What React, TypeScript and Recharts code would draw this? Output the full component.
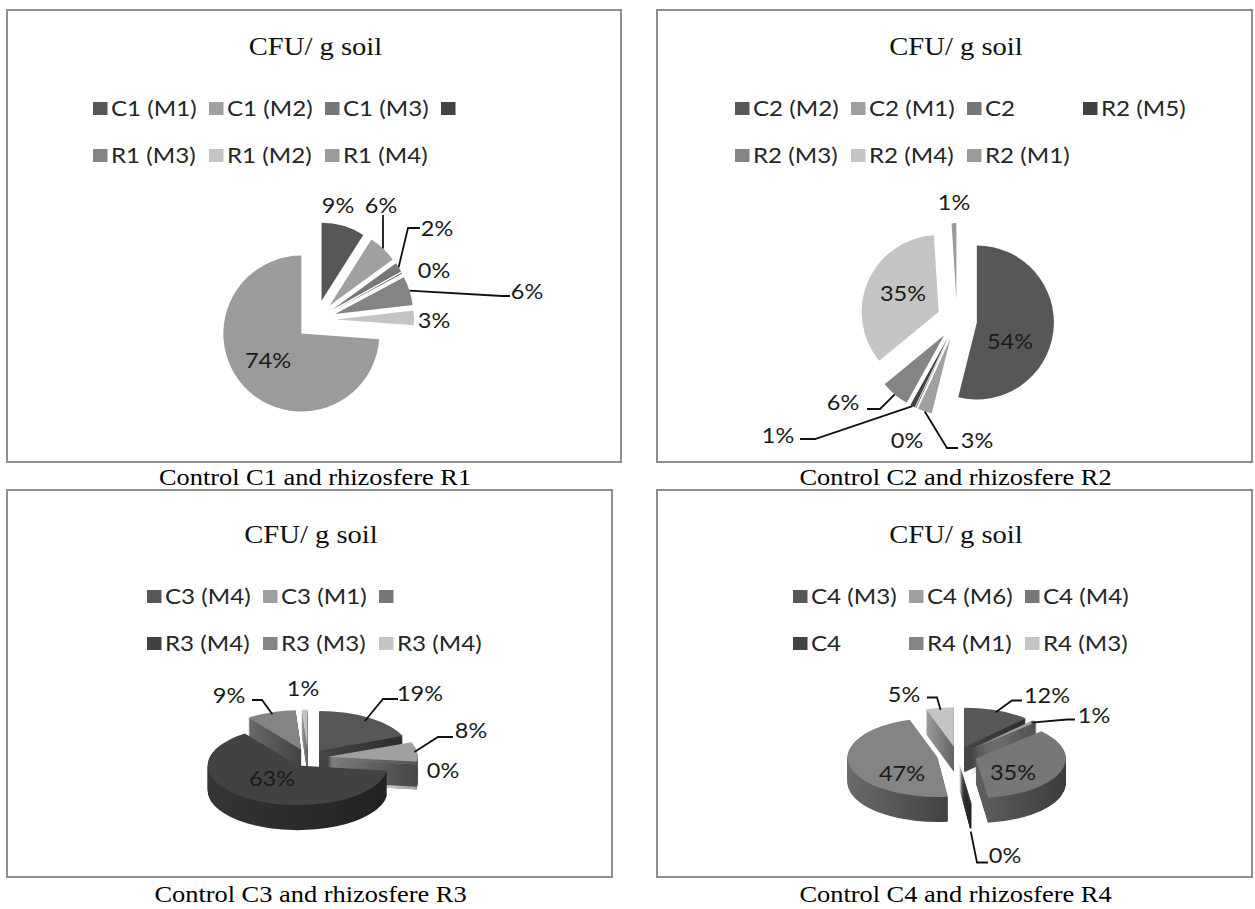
import React from 'react';
import { PieChart, Pie, Sector } from 'recharts';

// ---------- data ----------
const P1_NAMES = ['C1 (M1)', 'C1 (M2)', 'C1 (M3)', '', 'R1 (M3)', 'R1 (M2)', 'R1 (M4)'];
const P1_VALUES = [9, 6, 2, 0.2, 6, 3, 74];
const P2_NAMES = ['C2 (M2)', 'C2 (M1)', 'C2', 'R2 (M5)', 'R2 (M3)', 'R2 (M4)', 'R2 (M1)'];
const P2_VALUES = [54, 3, 0.2, 1, 6, 35, 1];
const P3_NAMES = ['C3 (M4)', 'C3 (M1)', '', 'R3 (M4)', 'R3 (M3)', 'R3 (M4)'];
const P3_VALUES = [19, 8, 0.2, 63, 9, 1];
const P4_NAMES = ['C4 (M3)', 'C4 (M6)', 'C4 (M4)', 'C4', 'R4 (M1)', 'R4 (M3)'];
const P4_VALUES = [12, 1, 35, 0.3, 47, 5];
const TITLE = 'CFU/ g soil';
const CAPTIONS = [
  'Control C1 and rhizosfere R1',
  'Control C2 and rhizosfere R2',
  'Control C3 and rhizosfere R3',
  'Control C4 and rhizosfere R4',
];

// ---------- style / layout ----------
const PALETTE = ['#575757', '#a0a0a0', '#777777', '#424242', '#848484', '#c4c4c4', '#9b9b9b'];
const SANS = 'Lato, "Open Sans", "DejaVu Sans", sans-serif';
const SERIF = '"Liberation Serif", "Times New Roman", serif';
const RAD = Math.PI / 180;

type Leader = { ax: number; ay: number; ex: number; pr?: number; pd?: number };
type LabelSpec = { dx: number; dy: number; leader?: Leader };

// label placement relative to pie centre (layout only)
const P1_LABELS: LabelSpec[] = [
  { dx: 22, dy: -115 },
  { dx: 65, dy: -115, leader: { ax: 2, ay: 10, ex: 0 } },
  { dx: 121, dy: -92, leader: { ax: -17, ay: 0, ex: -12 } },
  { dx: 118, dy: -50 },
  { dx: 211, dy: -29, leader: { ax: -17, ay: 5, ex: -8 } },
  { dx: 118, dy: 0 },
  { dx: -48, dy: 40 },
];
const P2_LABELS: LabelSpec[] = [
  { dx: 53, dy: 21 },
  { dx: 20, dy: 120, leader: { ax: -19, ay: 8, ex: -11 } },
  { dx: -50, dy: 120 },
  { dx: -179, dy: 115, leader: { ax: 22, ay: 4, ex: 15 } },
  { dx: -114, dy: 82, leader: { ax: 24, ay: 7, ex: 13 } },
  { dx: -54, dy: -27 },
  { dx: -3, dy: -118 },
];
const P3_LABELS: LabelSpec[] = [
  { dx: 112, dy: -65, leader: { ax: -22, ay: 6, ex: -15, pr: 0.9 } },
  { dx: 163, dy: -28, leader: { ax: -18, ay: 7, ex: -15, pr: 0.97 } },
  { dx: 135, dy: 12 },
  { dx: -36, dy: 20 },
  { dx: -79, dy: -63, leader: { ax: 23, ay: 5, ex: 10, pr: 0.95 } },
  { dx: -5, dy: -70 },
];
const P4_LABELS: LabelSpec[] = [
  { dx: 90, dy: -60, leader: { ax: -25, ay: 5, ex: -10, pr: 0.95 } },
  { dx: 137, dy: -40, leader: { ax: -19, ay: 4, ex: -8, pr: 0.95 } },
  { dx: 56, dy: 16.5 },
  { dx: 48, dy: 100, leader: { ax: -17, ay: 7, ex: -11, pd: 28 } },
  { dx: -55, dy: 17.5 },
  { dx: -53, dy: -61, leader: { ax: 23, ay: 3, ex: 10, pr: 0.95 } },
];

type Panel = {
  id: string;
  names: string[];
  values: number[];
  caption: string;
  box: { x: number; y: number; w: number; h: number };
  cx: number;
  cy: number;
  r: number;
  explode: number;
  tilt: number;
  depth: number;
  titleY: number;
  legendX: number;
  legendY: number[];
  perRow: number;
  captionY: number;
  labels: LabelSpec[];
};

const PANELS: Panel[] = [
  {
    id: 'p1', names: P1_NAMES, values: P1_VALUES, caption: CAPTIONS[0],
    box: { x: 7, y: 10, w: 614, h: 452 }, cx: 309, cy: 310, r: 78, explode: 20, tilt: 1, depth: 0,
    titleY: 55, legendX: 93, legendY: [116, 163], perRow: 4, captionY: 485, labels: P1_LABELS,
  },
  {
    id: 'p2', names: P2_NAMES, values: P2_VALUES, caption: CAPTIONS[1],
    box: { x: 657, y: 10, w: 595, h: 452 }, cx: 300, cy: 310, r: 77, explode: 20, tilt: 1, depth: 0,
    titleY: 55, legendX: 735, legendY: [116, 163], perRow: 4, captionY: 485, labels: P2_LABELS,
  },
  {
    id: 'p3', names: P3_NAMES, values: P3_VALUES, caption: CAPTIONS[2],
    box: { x: 7, y: 490, w: 605, h: 387 }, cx: 301, cy: 268, r: 90, explode: 20, tilt: 0.44, depth: 25,
    titleY: 543, legendX: 147, legendY: [604, 651], perRow: 3, captionY: 902, labels: P3_LABELS,
  },
  {
    id: 'p4', names: P4_NAMES, values: P4_VALUES, caption: CAPTIONS[3],
    box: { x: 657, y: 490, w: 595, h: 387 }, cx: 300, cy: 265.5, r: 90, explode: 20, tilt: 0.44, depth: 25,
    titleY: 543, legendX: 793, legendY: [604, 651], perRow: 3, captionY: 902, labels: P4_LABELS,
  },
];

// ---------- helpers ----------
function shade(hex: string, f: number) {
  const n = parseInt(hex.slice(1), 16);
  const r = Math.round(((n >> 16) & 255) * f);
  const g = Math.round(((n >> 8) & 255) * f);
  const b = Math.round((n & 255) * f);
  return `rgb(${r},${g},${b})`;
}

function ellSector(cx: number, cy: number, rx: number, ry: number, sa: number, ea: number) {
  const x1 = cx + rx * Math.cos(sa * RAD);
  const y1 = cy - ry * Math.sin(sa * RAD);
  const x2 = cx + rx * Math.cos(ea * RAD);
  const y2 = cy - ry * Math.sin(ea * RAD);
  const large = Math.abs(sa - ea) > 180 ? 1 : 0;
  const sweep = sa > ea ? 1 : 0;
  return `M${cx},${cy} L${x1},${y1} A${rx},${ry} 0 ${large} ${sweep} ${x2},${y2} Z`;
}

function offsetOf(cfg: Panel, mid: number) {
  return {
    ox: cfg.explode * Math.cos(mid * RAD),
    oy: -cfg.explode * Math.sin(mid * RAD) * cfg.tilt,
  };
}

function wallsLabel(cfg: Panel) {
  return (props: any) => {
    const { cx, cy, startAngle, endAngle, outerRadius, index } = props;
    const mid = (startAngle + endAngle) / 2;
    const { ox, oy } = offsetOf(cfg, mid);
    const color = PALETTE[index];
    const gid = `wall-${cfg.id}-${index}`;
    const d = ellSector(cx + ox, cy + oy, outerRadius, outerRadius * cfg.tilt, startAngle, endAngle);
    const layers = [];
    for (let k = cfg.depth; k >= 1; k -= 1) {
      layers.push(<path key={k} d={d} transform={`translate(0,${k})`} fill={`url(#${gid})`} stroke="none" />);
    }
    return (
      <g key={`w-${index}`}>
        <defs>
          <linearGradient id={gid} x1="0" y1="0" x2="1" y2="0">
            <stop offset="0" stopColor={shade(color, 0.8)} />
            <stop offset="1" stopColor={shade(color, 0.5)} />
          </linearGradient>
        </defs>
        {layers}
      </g>
    );
  };
}

function topsLabel(cfg: Panel) {
  return (props: any) => {
    const { cx, cy, startAngle, endAngle, outerRadius, index } = props;
    const mid = (startAngle + endAngle) / 2;
    const { ox, oy } = offsetOf(cfg, mid);
    const color = PALETTE[index];
    if (cfg.tilt === 1) {
      return (
        <Sector
          key={`t-${index}`}
          cx={cx + ox}
          cy={cy + oy}
          innerRadius={0}
          outerRadius={outerRadius}
          startAngle={startAngle}
          endAngle={endAngle}
          fill={color}
          stroke="none"
        />
      );
    }
    const d = ellSector(cx + ox, cy + oy, outerRadius, outerRadius * cfg.tilt, startAngle, endAngle);
    return <path key={`t-${index}`} d={d} fill={color} stroke="none" />;
  };
}

function textLabel(cfg: Panel) {
  return (props: any) => {
    const { cx, cy, startAngle, endAngle, outerRadius, index, percent } = props;
    const spec = cfg.labels[index];
    const mid = (startAngle + endAngle) / 2;
    const lx = cx + spec.dx;
    const ly = cy + spec.dy;
    const txt = `${Math.round(percent * 100)}%`;
    let leader = null;
    if (spec.leader) {
      const { ox, oy } = offsetOf(cfg, mid);
      const pr = (spec.leader.pr ?? 1) * outerRadius;
      const px = cx + ox + pr * Math.cos(mid * RAD);
      const py = cy + oy - pr * cfg.tilt * Math.sin(mid * RAD) + (spec.leader.pd ?? 0);
      const axp = lx + spec.leader.ax;
      const ayp = ly + spec.leader.ay;
      const exp = axp + spec.leader.ex;
      leader = (
        <polyline
          points={`${px},${py} ${exp},${ayp} ${axp},${ayp}`}
          fill="none"
          stroke="#111"
          strokeWidth={1.8}
        />
      );
    }
    return (
      <g key={`l-${index}`}>
        {leader}
        <text
          transform={`translate(${lx},${ly + 7.5}) scale(1.12,1)`}
          textAnchor="middle"
          fontFamily={SANS}
          fontSize={21}
          fill="#1a1a1a"
        >
          {txt}
        </text>
      </g>
    );
  };
}

function PanelChart({ cfg }: { cfg: Panel }) {
  const data = cfg.values.map((v, i) => ({ name: cfg.names[i] || `item ${i + 1}`, value: v }));
  const passes = cfg.depth > 0 ? [wallsLabel(cfg), topsLabel(cfg), textLabel(cfg)] : [topsLabel(cfg), textLabel(cfg)];
  return (
    <div style={{ position: 'absolute', left: cfg.box.x, top: cfg.box.y }}>
      <PieChart width={cfg.box.w} height={cfg.box.h} margin={{ top: 0, right: 0, bottom: 0, left: 0 }}>
        {passes.map((fn, k) => (
          <Pie
            key={k}
            data={data}
            dataKey="value"
            nameKey="name"
            cx={cfg.cx}
            cy={cfg.cy}
            innerRadius={0}
            outerRadius={cfg.r}
            startAngle={90}
            endAngle={-270}
            fill="transparent"
            stroke="none"
            label={fn}
            labelLine={false}
            isAnimationActive={false}
          />
        ))}
      </PieChart>
    </div>
  );
}

function StaticLayer() {
  return (
    <svg width={1255} height={909} style={{ position: 'absolute', left: 0, top: 0 }}>
      {PANELS.map((cfg) => {
        const bx = cfg.box.x + cfg.box.w / 2;
        return (
          <g key={cfg.id}>
            <rect x={cfg.box.x} y={cfg.box.y} width={cfg.box.w} height={cfg.box.h} fill="#fff" stroke="#8f8f8f" strokeWidth={2} />
            <text
              transform={`translate(${bx + 1.5},${cfg.titleY}) scale(1.1,1)`}
              textAnchor="middle"
              fontFamily={SERIF}
              fontSize={26}
              fill="#111"
            >
              {TITLE}
            </text>
            {cfg.names.map((nm, i) => {
              const row = i < cfg.perRow ? 0 : 1;
              const col = row === 0 ? i : i - cfg.perRow;
              const x = cfg.legendX + col * 116;
              const base = cfg.legendY[row];
              return (
                <g key={i}>
                  <rect x={x} y={base - 14} width={14.5} height={13} fill={PALETTE[i]} />
                  {nm ? (
                    <text transform={`translate(${x + 18},${base}) scale(1.15,1)`} fontFamily={SANS} fontSize={21} fill="#262626">
                      {nm}
                    </text>
                  ) : null}
                </g>
              );
            })}
            <text
              transform={`translate(${bx + 1},${cfg.captionY}) scale(1.1,1)`}
              textAnchor="middle"
              fontFamily={SERIF}
              fontSize={24}
              fill="#000"
            >
              {cfg.caption}
            </text>
          </g>
        );
      })}
    </svg>
  );
}

export default function App() {
  return (
    <div style={{ position: 'absolute', left: 0, top: 0, width: 1255, height: 909, background: '#fff', overflow: 'hidden' }}>
      <StaticLayer />
      {PANELS.map((cfg) => (
        <PanelChart key={cfg.id} cfg={cfg} />
      ))}
    </div>
  );
}
